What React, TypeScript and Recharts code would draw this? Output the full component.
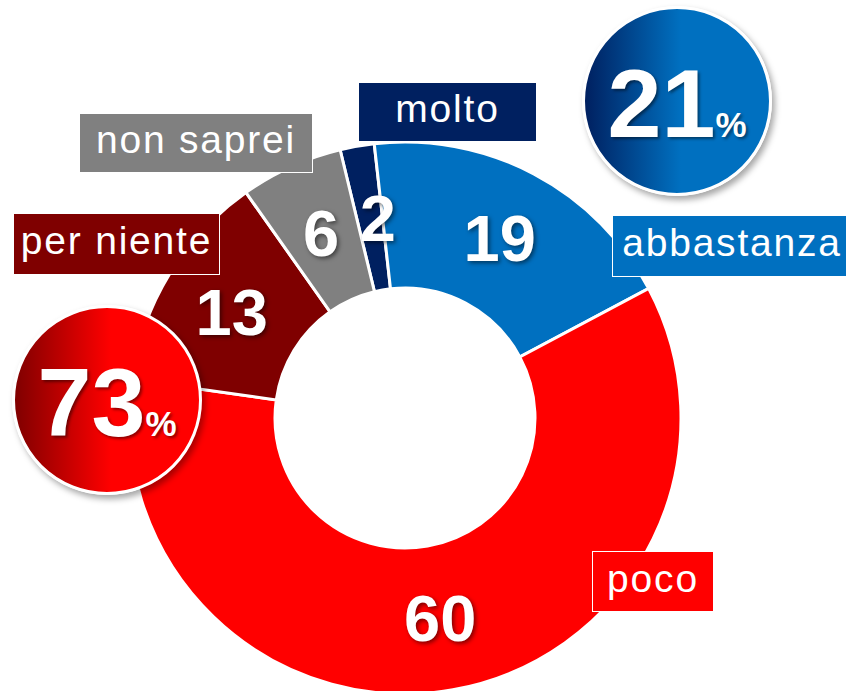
import React from 'react';
import { PieChart, Pie, Cell } from 'recharts';

const categories = ['molto', 'abbastanza', 'poco', 'per niente', 'non saprei'];
const values = [2, 19, 60, 13, 6];

// groups summed in the two round badges
const positiveGroup = ['molto', 'abbastanza'];
const negativeGroup = ['poco', 'per niente'];

const colors: Record<string, string> = {
  molto: '#002060',
  abbastanza: '#0070C0',
  poco: '#FF0000',
  'per niente': '#7F0000',
  'non saprei': '#808080',
};

// callout boxes (page coordinates)
const boxes: Record<string, { left: number; top: number; width: number; height: number }> = {
  molto: { left: 358, top: 82, width: 179, height: 60 },
  'non saprei': { left: 79, top: 113, width: 234, height: 60 },
  'per niente': { left: 13, top: 213, width: 207, height: 62 },
  abbastanza: { left: 612, top: 215, width: 240, height: 62 },
  poco: { left: 592, top: 551, width: 122, height: 61 },
};

// small horizontal nudges for the in-slice numbers
const labelNudge: Record<string, number> = { molto: 8 };

const FONT = "'Liberation Sans', Arial, sans-serif";
const RADIAN = Math.PI / 180;

const data = categories.map((name, i) => ({ name, value: values[i] }));
const sumOf = (group: string[]) =>
  group.reduce((s, n) => s + values[categories.indexOf(n)], 0);

function renderLabel(props: any) {
  const { cx, cy, midAngle, innerRadius, outerRadius, value, name } = props;
  const r = (innerRadius + outerRadius) / 2;
  const x = cx + r * Math.cos(-midAngle * RADIAN) + (labelNudge[name] || 0);
  const y = cy + r * Math.sin(-midAngle * RADIAN);
  return (
    <text
      x={x}
      y={y}
      dy={23}
      textAnchor="middle"
      fill="#fff"
      fontFamily={FONT}
      fontWeight={700}
      fontSize={65}
      style={{ filter: 'drop-shadow(2px 2px 2px rgba(0,0,0,0.5))' }}
    >
      {value}
    </text>
  );
}

function Badge({ cx, cy, value, from, to }: { cx: number; cy: number; value: number; from: string; to: string }) {
  const r = 95;
  return (
    <>
      <div
        style={{
          position: 'absolute',
          left: cx - r,
          top: cy - r,
          width: 2 * r,
          height: 2 * r,
          boxSizing: 'border-box',
          borderRadius: '50%',
          border: '3px solid #fff',
          background: `linear-gradient(to right, ${from} 0%, ${to} 52%, ${to} 100%)`,
          boxShadow: '3px 4px 6px rgba(0,0,0,0.35)',
        }}
      />
      <div
        style={{
          position: 'absolute',
          left: cx - r,
          width: 2 * r,
          top: cy - 46,
          textAlign: 'center',
          lineHeight: 1,
          fontSize: 97,
          fontWeight: 700,
          fontFamily: FONT,
          color: '#fff',
          whiteSpace: 'nowrap',
          textShadow: '2px 2px 3px rgba(0,0,0,0.45)',
        }}
      >
        {value}<span style={{ fontSize: 35 }}>%</span>
      </div>
    </>
  );
}

export default function App() {
  return (
    <div style={{ position: 'absolute', left: 0, top: 0, width: 846, height: 691, background: '#fff', overflow: 'hidden' }}>
      <PieChart width={846} height={691} margin={{ top: 0, right: 0, bottom: 0, left: 0 }}>
        <Pie
          data={data}
          dataKey="value"
          nameKey="name"
          cx={405}
          cy={418}
          innerRadius={130}
          outerRadius={276}
          startAngle={103.6}
          endAngle={-256.4}
          stroke="#fff"
          strokeWidth={3}
          label={renderLabel}
          labelLine={false}
          isAnimationActive={false}
        >
          {data.map((d) => (
            <Cell key={d.name} fill={colors[d.name]} />
          ))}
        </Pie>
      </PieChart>

      {categories.map((name) => {
        const b = boxes[name];
        return (
          <div
            key={name}
            style={{
              position: 'absolute',
              left: b.left,
              top: b.top,
              width: b.width,
              height: b.height,
              boxSizing: 'border-box',
              border: '1.5px solid #fff',
              background: colors[name],
              color: '#fff',
              fontFamily: FONT,
              fontSize: 39,
              letterSpacing: 1.8,
              display: 'flex',
              alignItems: 'center',
              justifyContent: 'center',
              paddingBottom: 6,
              whiteSpace: 'nowrap',
            }}
          >
            {name}
          </div>
        );
      })}

      <Badge cx={677} cy={101} value={sumOf(positiveGroup)} from="#002060" to="#0070C0" />
      <Badge cx={107} cy={400} value={sumOf(negativeGroup)} from="#800000" to="#FF0000" />
    </div>
  );
}
